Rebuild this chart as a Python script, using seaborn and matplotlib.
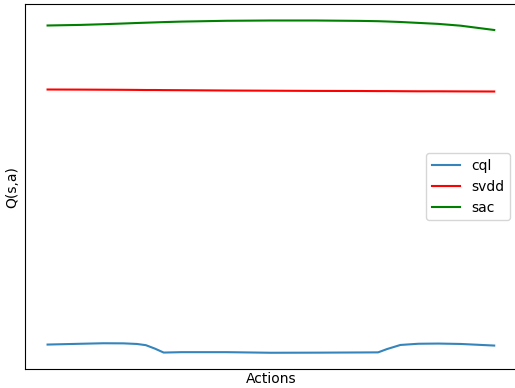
import matplotlib
matplotlib.use("Agg")
import matplotlib.pyplot as plt
import numpy as np
import seaborn as sns

# action grid (at a few points)
actions = [-1.0, -0.85, -0.75, -0.66, -0.6, -0.56, -0.52, -0.48, -0.4, -0.2, 0.0, 0.2, 0.4, 0.48, 0.52, 0.58, 0.66, 0.75, 0.85, 1.0]

cql = [24.0, 24.8, 25.3, 25.2, 24.6, 23.4, 20.0, 16.0, 16.4, 16.4, 15.8, 15.9, 16.1, 16.2, 19.5, 23.6, 24.8, 25.0, 24.6, 23.0]
svdd = [279.0, 278.9, 278.8, 278.7, 278.6, 278.5, 278.5, 278.4, 278.3, 278.0, 277.8, 277.6, 277.5, 277.4, 277.4, 277.3, 277.2, 277.2, 277.1, 277.0]
sac = [343.0, 343.6, 344.3, 345.0, 345.5, 345.8, 346.1, 346.4, 346.9, 347.7, 348.0, 348.0, 347.6, 347.3, 347.0, 346.5, 345.6, 344.6, 342.8, 338.5]

fig, ax = plt.subplots(figsize=(5.15, 3.88), dpi=100)

sns.lineplot(x=actions, y=cql, ax=ax, color="tab:blue", alpha=0.9, label="cql")
sns.lineplot(x=actions, y=svdd, ax=ax, color="red", label="svdd")
sns.lineplot(x=actions, y=sac, ax=ax, color="green", label="sac")

ax.set_xticks([])
ax.set_yticks([])
ax.set_xlabel("Actions", labelpad=2)
ax.set_ylabel("Q(s,a)")
ax.legend(loc="center right")

fig.subplots_adjust(left=0.049, right=1.003, bottom=0.048, top=0.99)
fig.savefig("out.png")
